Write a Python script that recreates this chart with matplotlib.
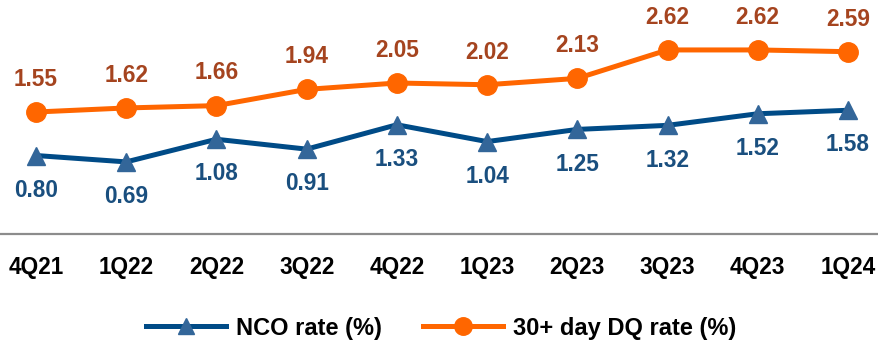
import matplotlib
matplotlib.use("Agg")
import matplotlib.pyplot as plt

plt.rcParams["font.family"] = ["Liberation Sans", "DejaVu Sans"]
plt.rcParams["font.weight"] = "bold"

quarters = ["4Q21", "1Q22", "2Q22", "3Q22", "4Q22", "1Q23", "2Q23", "3Q23", "4Q23", "1Q24"]
nco_rate = [0.80, 0.69, 1.08, 0.91, 1.33, 1.04, 1.25, 1.32, 1.52, 1.58]
dq30_rate = [1.55, 1.62, 1.66, 1.94, 2.05, 2.02, 2.13, 2.62, 2.62, 2.59]

NCO_LINE = "#004b87"
NCO_MARK = "#336699"
NCO_TEXT = "#1a4f7f"
DQ_LINE = "#ff6600"
DQ_TEXT = "#a5441f"

fig = plt.figure(figsize=(8.79, 3.43), dpi=100)
ax = fig.add_axes([0.0, (343 - 234) / 343, 1.0, 234 / 343])

x = list(range(len(quarters)))

ax.plot(x, nco_rate, color=NCO_LINE, linewidth=3.6, marker="^", markersize=13.5,
        markerfacecolor=NCO_MARK, markeredgecolor=NCO_MARK, label="NCO rate (%)", zorder=3)
ax.plot(x, dq30_rate, color=DQ_LINE, linewidth=3.6, marker="o", markersize=14,
        markerfacecolor=DQ_LINE, markeredgecolor=DQ_LINE, label="30+ day DQ rate (%)", zorder=3)

for xi, v in zip(x, nco_rate):
    ax.annotate(f"{v:.2f}", (xi, v), xytext=(0, -25), textcoords="offset points",
                ha="center", va="center", fontsize=16.3, fontweight="bold", color=NCO_TEXT)
for xi, v in zip(x, dq30_rate):
    ax.annotate(f"{v:.2f}", (xi, v), xytext=(0, 23.5), textcoords="offset points",
                ha="center", va="center", fontsize=16.3, fontweight="bold", color=DQ_TEXT)

ax.set_xlim(-0.399, 9.344)
ax.set_ylim(-0.553, 3.481)
ax.set_xticks(x)
ax.set_xticklabels(quarters, fontsize=16.3, fontweight="bold", color="black")
ax.tick_params(axis="x", length=0, pad=15.5)
ax.set_yticks([])
for side in ("top", "left", "right"):
    ax.spines[side].set_visible(False)
ax.spines["bottom"].set_color("#8c8c8c")
ax.spines["bottom"].set_linewidth(1.6)
ax.patch.set_alpha(0)

fig.legend(loc="center", bbox_to_anchor=(441 / 879, 15 / 343), ncol=2, frameon=False,
           prop={"size": 17, "weight": "bold"}, handlelength=3.4, handletextpad=0.42,
           columnspacing=1.74, markerscale=0.9)

fig.savefig("out.png", dpi=100)
